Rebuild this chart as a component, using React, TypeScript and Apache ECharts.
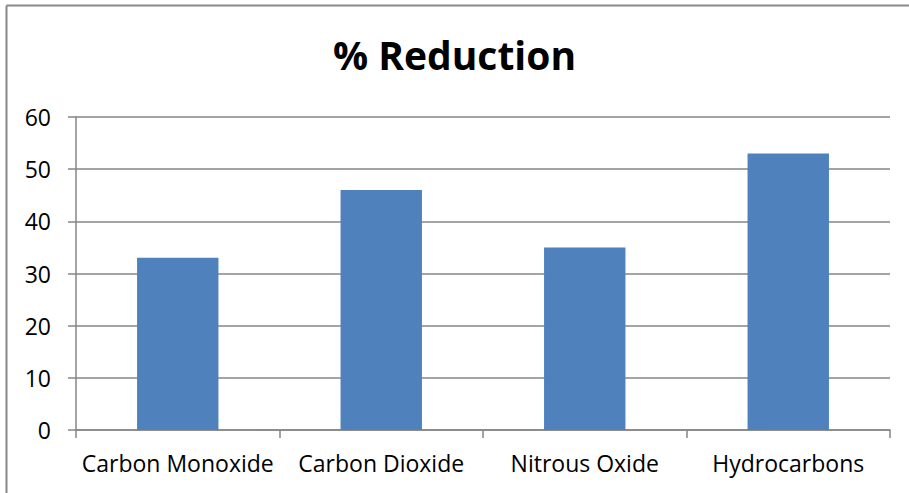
import React, { useEffect, useRef } from "react";
import * as echarts from "echarts";

const categories = ["Carbon Monoxide", "Carbon Dioxide", "Nitrous Oxide", "Hydrocarbons"];
const reductionValues = [33, 46, 35, 53];
const titleText = "% Reduction";

export default function App() {
  const ref = useRef<HTMLDivElement>(null);
  useEffect(() => {
    document.body.style.margin = "0";
    const chart = echarts.init(ref.current!, null, { renderer: "svg" });
    const font = "Open Sans";
    chart.setOption({
      animation: false,
      backgroundColor: "#ffffff",
      title: {
        text: titleText,
        left: "center",
        top: 30,
        padding: [5, 0, 5, 16],
        textStyle: { fontFamily: font, fontWeight: "bold", fontSize: 39, color: "#000000" },
      },
      graphic: [
        { type: "line", shape: { x1: 6.5, y1: 5.5, x2: 909, y2: 5.5 }, style: { stroke: "#888888", lineWidth: 2 } },
        { type: "line", shape: { x1: 6.5, y1: 5.5, x2: 6.5, y2: 493 }, style: { stroke: "#888888", lineWidth: 2 } },
      ],
      grid: { left: 76, right: 19, top: 117, bottom: 63, containLabel: false },
      xAxis: {
        type: "category",
        data: categories,
        boundaryGap: true,
        axisLine: { show: true, lineStyle: { color: "#868686", width: 1.5 } },
        axisTick: { show: true, length: 8, interval: 0, lineStyle: { color: "#868686", width: 1.5 } },
        axisLabel: { interval: 0, margin: 21, fontFamily: font, fontSize: 23, color: "#000000" },
      },
      yAxis: {
        type: "value",
        min: 0,
        max: 60,
        interval: 10,
        axisLine: { show: true, lineStyle: { color: "#868686", width: 1.5 } },
        axisTick: { show: true, length: 8, lineStyle: { color: "#868686", width: 1.5 } },
        splitLine: { show: true, lineStyle: { color: "#868686", width: 1.5 } },
        axisLabel: { margin: 25, fontFamily: font, fontSize: 23, color: "#000000" },
      },
      series: [
        {
          type: "bar",
          data: reductionValues,
          barWidth: "40%",
          itemStyle: { color: "#4F81BD" },
        },
      ],
    });
    return () => chart.dispose();
  }, []);
  return <div ref={ref} style={{ position: "fixed", left: 0, top: 0, width: 909, height: 493 }} />;
}
